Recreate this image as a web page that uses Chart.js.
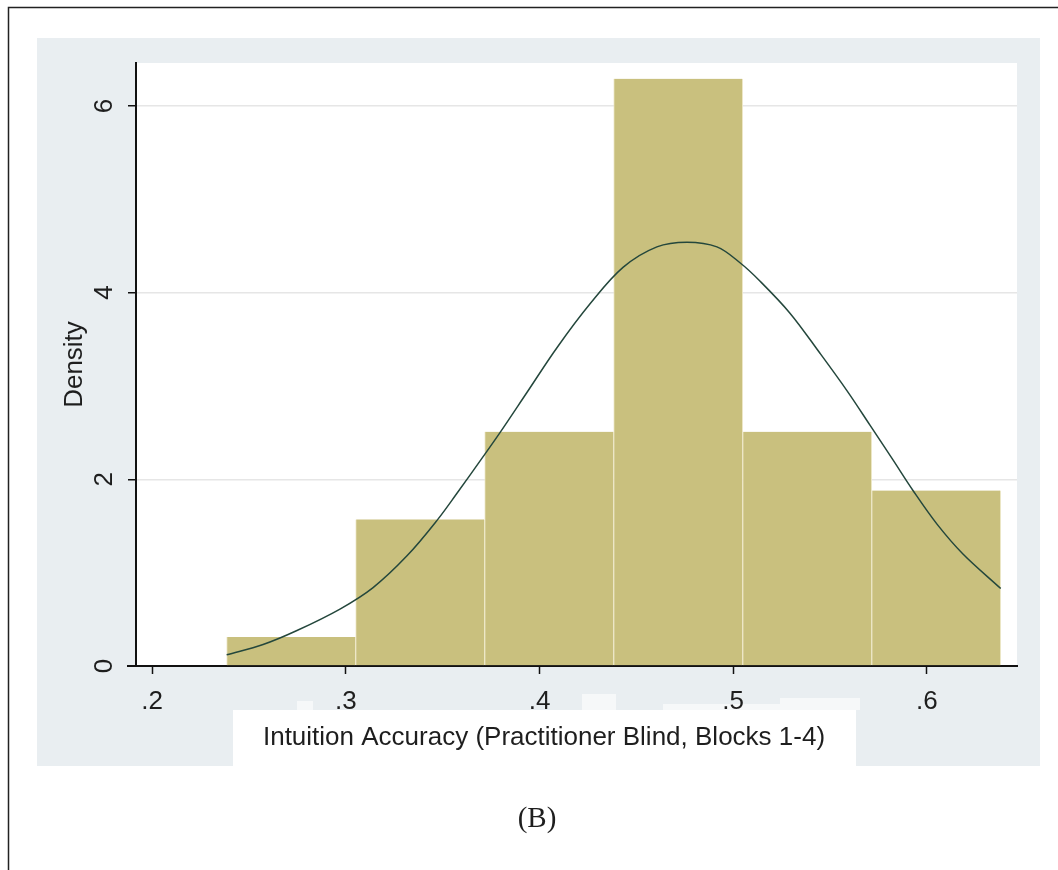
<!DOCTYPE html>
<html>
<head>
<meta charset="utf-8">
<script src="https://cdn.jsdelivr.net/npm/chart.js@4/dist/chart.umd.min.js"></script>
<style>
  html, body { margin: 0; padding: 0; background: #fff; }
  #wrap { width: 1058px; height: 870px; position: relative; }
</style>
</head>
<body>
<div id="wrap"><canvas id="hist"></canvas></div>
<script>
// histogram bins: centre of each bin and its density
const binCenters = [0.2718, 0.3384, 0.4050, 0.4716, 0.5382, 0.6048];
const binDensity = [0.31, 1.57, 2.51, 6.29, 2.51, 1.88];

// normal density overlay
const curveX = [0.2385, 0.2573, 0.2748, 0.2970, 0.3141, 0.3316, 0.3471, 0.3574, 0.3708, 0.3796,
  0.3935, 0.4090, 0.4261, 0.4431, 0.4606, 0.4761, 0.4916, 0.5035, 0.5135, 0.5293,
  0.5448, 0.5587, 0.5706, 0.5824, 0.5928, 0.6052, 0.6186, 0.6381];
const curveY = [0.12, 0.23, 0.38, 0.61, 0.84, 1.18, 1.56, 1.85, 2.24, 2.50,
  2.93, 3.41, 3.88, 4.27, 4.49, 4.54, 4.49, 4.32, 4.13, 3.78,
  3.35, 2.95, 2.58, 2.21, 1.88, 1.52, 1.20, 0.83];

const xTicks = [0.2, 0.3, 0.4, 0.5, 0.6];
const yTicks = [0, 2, 4, 6];

const xTitle = "Intuition Accuracy (Practitioner Blind, Blocks 1-4)";
const caption = "(B)";

const textColor = "#1e1e1e";
const sans = "'Liberation Sans', Arial, sans-serif";

// panel, white patch and frame behind the chart, texts on top
const decor = {
  id: "decor",
  beforeDraw(chart) {
    const { ctx, chartArea } = chart;
    ctx.save();
    ctx.fillStyle = "#fff";
    ctx.fillRect(0, 0, chart.width, chart.height);
    ctx.fillStyle = "#e9eef1";
    ctx.fillRect(37, 38, 1003, 728);
    ctx.fillStyle = "#fff";
    ctx.fillRect(chartArea.left, chartArea.top, chartArea.width, chartArea.height);
    // white patch over the axis title
    ctx.fillRect(233, 710, 623, 57);
    ctx.fillStyle = "#f6f8f9";
    ctx.fillRect(780, 698, 80, 12);
    ctx.fillRect(582, 694, 34, 16);
    ctx.fillRect(663, 704, 117, 6);
    ctx.fillRect(297, 701, 16, 9);
    // frame
    ctx.strokeStyle = "#222";
    ctx.lineWidth = 1.5;
    ctx.beginPath();
    ctx.moveTo(8.5, 870);
    ctx.lineTo(8.5, 7.5);
    ctx.lineTo(1058, 7.5);
    ctx.stroke();
    ctx.restore();
  },
  afterDraw(chart) {
    const { ctx, chartArea } = chart;
    ctx.save();
    // x axis line runs a little past the y axis
    ctx.strokeStyle = "#111";
    ctx.lineWidth = 2;
    ctx.beginPath();
    ctx.moveTo(127, chartArea.bottom);
    ctx.lineTo(chartArea.left, chartArea.bottom);
    ctx.stroke();
    ctx.fillStyle = textColor;
    ctx.textAlign = "center";
    ctx.textBaseline = "alphabetic";
    ctx.font = "26px " + sans;
    ctx.fillText(xTitle, 544, 745);
    ctx.font = "29px 'Liberation Serif', 'Times New Roman', serif";
    ctx.fillText(caption, 537, 827);
    ctx.restore();
  },
};

const ctx = document.getElementById("hist").getContext("2d");

new Chart(ctx, {
  type: "bar",
  data: {
    datasets: [
      {
        type: "line",
        data: curveX.map((x, i) => ({ x: x, y: curveY[i] })),
        borderColor: "#24473c",
        borderWidth: 1.5,
        pointRadius: 0,
        fill: false,
        tension: 0.35,
        order: 0,
      },
      {
        type: "bar",
        data: binCenters.map((x, i) => ({ x: x, y: binDensity[i] })),
        backgroundColor: "#c9c07e",
        borderColor: "rgba(236, 230, 196, 0.9)",
        borderWidth: { left: 1, right: 1, top: 0, bottom: 0 },
        barPercentage: 1,
        categoryPercentage: 1,
        order: 1,
      },
    ],
  },
  options: {
    responsive: true,
    maintainAspectRatio: false,
    animation: false,
    layout: { padding: { left: 0, top: 63, right: 41, bottom: 0 } },
    plugins: {
      legend: { display: false },
      tooltip: { enabled: false },
    },
    scales: {
      x: {
        type: "linear",
        offset: false,
        min: 0.1917,
        max: 0.6465,
        afterBuildTicks: (s) => {
          s.ticks = xTicks.map((v) => ({ value: v }));
        },
        afterFit: (s) => {
          s.height = 204;
        },
        ticks: {
          autoSkip: false,
          maxRotation: 0,
          padding: 12,
          color: textColor,
          font: { family: sans, size: 26 },
          callback: (v) => Number(v).toFixed(1).replace(/^0/, ""),
        },
        grid: {
          offset: false,
          drawOnChartArea: false,
          tickLength: 8,
          tickColor: "#111",
          tickWidth: 1.5,
        },
        border: { color: "#111", width: 2 },
      },
      y: {
        type: "linear",
        min: 0,
        max: 6.46,
        afterBuildTicks: (s) => {
          s.ticks = yTicks.map((v) => ({ value: v }));
        },
        afterFit: (s) => {
          s.width = 136;
        },
        ticks: {
          minRotation: 90,
          maxRotation: 90,
          crossAlign: "center",
          padding: 16,
          color: textColor,
          font: { family: sans, size: 26 },
        },
        grid: {
          color: (c) => (c.tick && c.tick.value === 0 ? "rgba(0,0,0,0)" : "#e6e6e6"),
          lineWidth: 1.5,
          tickLength: 8,
          tickColor: "#111",
          tickWidth: 1.5,
        },
        border: { color: "#111", width: 2 },
        title: {
          display: true,
          text: "Density",
          color: textColor,
          font: { family: sans, size: 26 },
          padding: { top: 59, bottom: 0 },
        },
      },
    },
  },
  plugins: [decor],
});
</script>
</body>
</html>
